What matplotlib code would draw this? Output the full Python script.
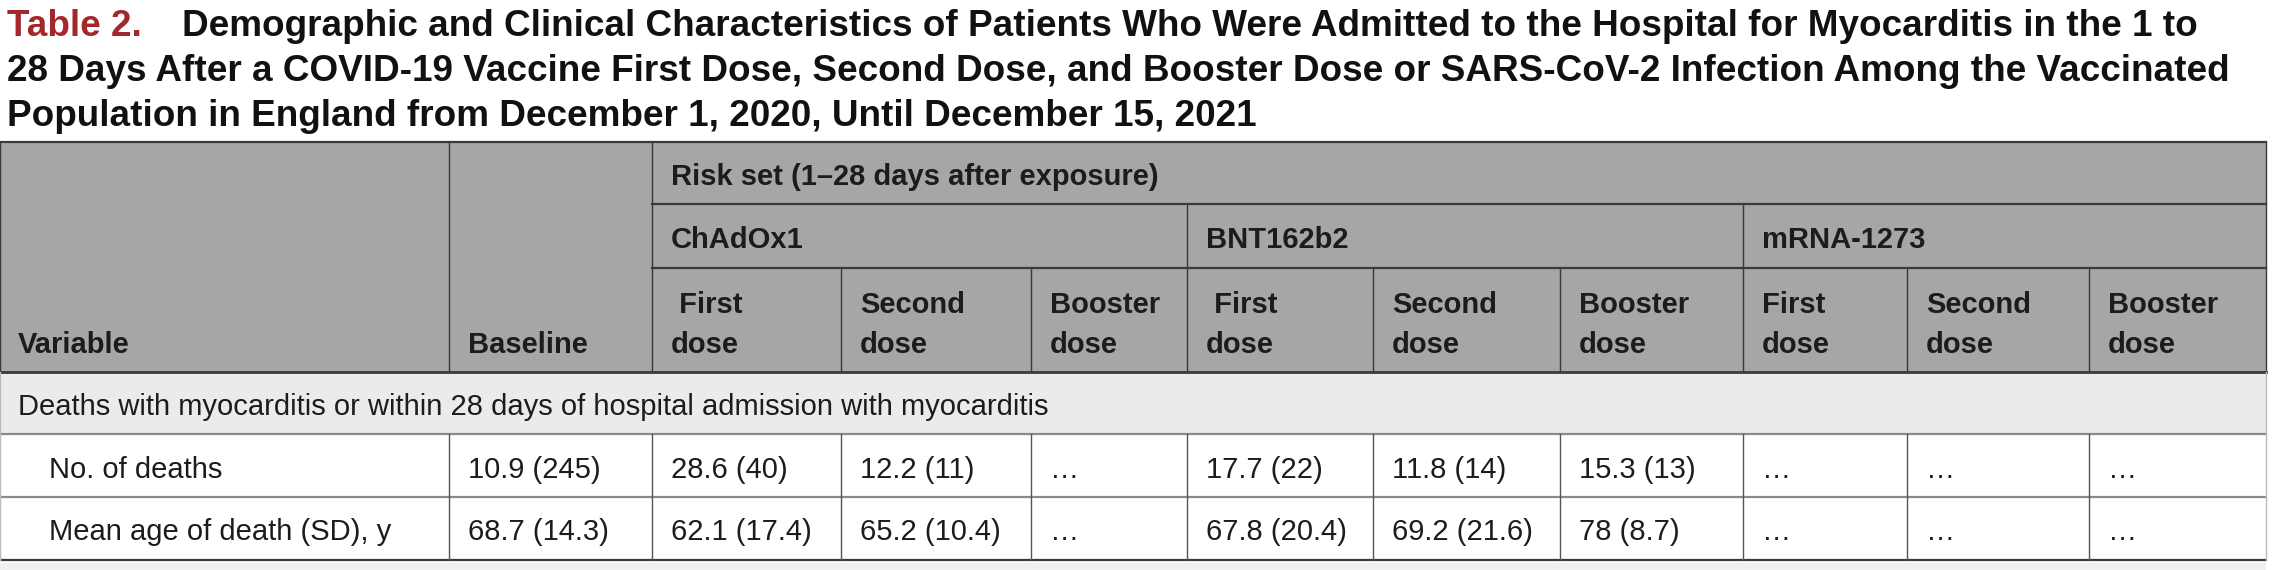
import matplotlib
matplotlib.use("Agg")
import matplotlib.pyplot as plt
from matplotlib.patches import Rectangle

plt.rcParams['font.family'] = ['Liberation Sans', 'DejaVu Sans']

# ---- content ----
title_tag = "Table 2."
title_lines = [
    "Demographic and Clinical Characteristics of Patients Who Were Admitted to the Hospital for Myocarditis in the 1 to",
    "28 Days After a COVID-19 Vaccine First Dose, Second Dose, and Booster Dose or SARS-CoV-2 Infection Among the Vaccinated",
    "Population in England from December 1, 2020, Until December 15, 2021",
]
risk_label = "Risk set (1\u201328 days after exposure)"
vaccines = ["ChAdOx1", "BNT162b2", "mRNA-1273"]
dose_labels = [[" First", "Second", "Booster"],
               [" First", "Second", "Booster"],
               ["First", "Second", "Booster"]]
section_label = "Deaths with myocarditis or within 28 days of hospital admission with myocarditis"
row_labels = ["No. of deaths", "Mean age of death (SD), y"]
baseline_vals = ["10.9 (245)", "68.7 (14.3)"]
no_deaths = ["28.6 (40)", "12.2 (11)", "\u2026", "17.7 (22)", "11.8 (14)", "15.3 (13)", "\u2026", "\u2026", "\u2026"]
mean_age = ["62.1 (17.4)", "65.2 (10.4)", "\u2026", "67.8 (20.4)", "69.2 (21.6)", "78 (8.7)", "\u2026", "\u2026", "\u2026"]

# ---- layout (pixels) ----
W, H = 2280, 570
col_x = [0, 449, 652, 841, 1031, 1187, 1373, 1560, 1743, 1907, 2089, 2266]
y_top, y_risk, y_vacc, y_head = 142, 204, 268, 372
y_sect, y_r1, y_r2 = 434, 497, 560

HEAD_GRAY = '#a6a6a6'
SECT_GRAY = '#ebebeb'
DARK = '#3a3a3a'
TXT = '#1c1c1c'
FS = 21
TFS = 26.6
DY = 4  # nudge for vertically centred text

fig = plt.figure(figsize=(W / 100, H / 100), dpi=100)
ax = fig.add_axes([0, 0, 1, 1])
ax.set_xlim(0, W)
ax.set_ylim(H, 0)
ax.axis('off')

# title
ax.text(7, 36, title_tag, color='#a3282b', fontsize=TFS, fontweight='bold', va='baseline')
ax.text(182, 36, title_lines[0], color='#111111', fontsize=TFS, fontweight='bold', va='baseline')
ax.text(7, 81, title_lines[1], color='#111111', fontsize=TFS, fontweight='bold', va='baseline')
ax.text(7, 126, title_lines[2], color='#111111', fontsize=TFS, fontweight='bold', va='baseline')

# backgrounds
ax.add_patch(Rectangle((0, y_top), col_x[-1], y_head - y_top, color=HEAD_GRAY, lw=0))
ax.add_patch(Rectangle((0, y_head), col_x[-1], y_sect - y_head, color=SECT_GRAY, lw=0))
ax.add_patch(Rectangle((0, y_r2 + 3), col_x[-1], H - y_r2, color='#f0f0f0', lw=0))

# header lines
lw_dark = 1.6
lw_thin = 1.0
ax.plot([0, col_x[-1]], [y_top, y_top], color=DARK, lw=lw_dark)
ax.plot([col_x[2], col_x[-1]], [y_risk, y_risk], color=DARK, lw=lw_dark)
ax.plot([col_x[2], col_x[-1]], [y_vacc, y_vacc], color=DARK, lw=lw_dark)
ax.plot([0, col_x[-1]], [y_head, y_head], color=DARK, lw=2.0)
for x in [0, col_x[1], col_x[2], col_x[-1]]:
    ax.plot([x, x], [y_top, y_head], color=DARK, lw=lw_thin)
for g in range(3):
    gx = col_x[2 + 3 * g]
    if g > 0:
        ax.plot([gx, gx], [y_risk, y_head], color=DARK, lw=lw_thin)
    for k in (1, 2):
        xx = col_x[2 + 3 * g + k]
        ax.plot([xx, xx], [y_vacc, y_head], color=DARK, lw=lw_thin)

# body lines
ax.plot([0, col_x[-1]], [y_sect, y_sect], color='#8a8a8a', lw=1.6)
ax.plot([0, col_x[-1]], [y_r1, y_r1], color='#8a8a8a', lw=1.6)
ax.plot([0, col_x[-1]], [y_r2, y_r2], color=DARK, lw=1.6)
for x in col_x[1:-1]:
    ax.plot([x, x], [y_sect, y_r2], color='#555555', lw=lw_thin)
ax.plot([col_x[-1], col_x[-1]], [y_head, y_r2], color='#bbbbbb', lw=lw_thin)
ax.plot([0, 0], [y_head, y_r2], color='#bbbbbb', lw=lw_thin)

# header text
pad = 19
ax.text(col_x[2] + pad, (y_top + y_risk) / 2 + DY, risk_label, fontsize=FS, fontweight='bold',
        color=TXT, va='center')
for g, vac in enumerate(vaccines):
    ax.text(col_x[2 + 3 * g] + pad, (y_risk + y_vacc) / 2 + DY, vac, fontsize=FS,
            fontweight='bold', color=TXT, va='center')
    for k, d in enumerate(dose_labels[g]):
        x0 = col_x[2 + 3 * g + k] + pad
        ax.text(x0, 313, d, fontsize=FS, fontweight='bold', color=TXT, va='baseline')
        ax.text(x0, 353, "dose", fontsize=FS, fontweight='bold', color=TXT, va='baseline')
ax.text(18, 353, "Variable", fontsize=FS, fontweight='bold', color=TXT, va='baseline')
ax.text(col_x[1] + pad, 353, "Baseline", fontsize=FS, fontweight='bold', color=TXT, va='baseline')

# body text
ax.text(18, (y_head + y_sect) / 2 + DY, section_label, fontsize=FS, color=TXT, va='center')
rows = [no_deaths, mean_age]
row_mid = [(y_sect + y_r1) / 2 + DY, (y_r1 + y_r2) / 2 + DY]
for i, lab in enumerate(row_labels):
    ax.text(49, row_mid[i], lab, fontsize=FS, color=TXT, va='center')
    ax.text(col_x[1] + pad, row_mid[i], baseline_vals[i], fontsize=FS, color=TXT, va='center')
    for j, v in enumerate(rows[i]):
        ax.text(col_x[2 + j] + pad, row_mid[i], v, fontsize=FS, color=TXT, va='center')

fig.savefig("out.png", dpi=100)
